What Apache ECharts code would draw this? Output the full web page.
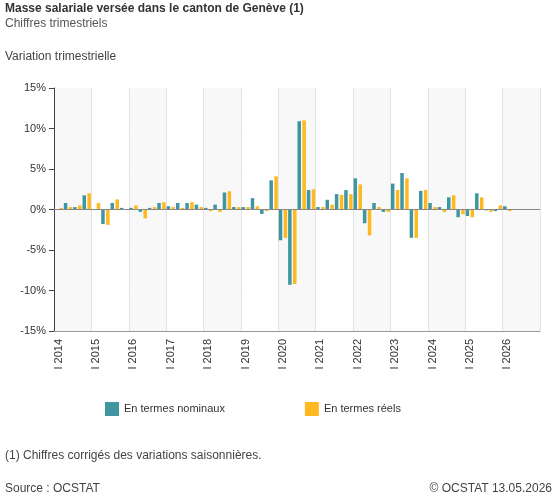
<!DOCTYPE html>
<html><head><meta charset="utf-8">
<script src="https://cdn.jsdelivr.net/npm/echarts@6/dist/echarts.min.js"></script>
<style>html,body{margin:0;padding:0;background:#fff}#c{width:557px;height:500px}</style>
</head><body><div id="c"></div>
<script>
const years = [2014,2015,2016,2017,2018,2019,2020,2021,2022,2023,2024,2025,2026];
const quarters = ['I','II','III','IV'];
const categories = [];
years.forEach(y => quarters.forEach(q => categories.push(q + ' ' + y)));
const nominal = [0,0.8,0.3,1.75,0,-1.8,0.8,0.2,0.2,-0.3,0.2,0.8,0.4,0.8,0.8,0.6,0.2,0.6,2.1,0.3,0.3,1.4,-0.55,3.6,
  -3.8,-9.3,10.9,2.4,0.3,1.2,1.9,2.4,3.85,-1.7,0.8,-0.3,3.2,4.5,-3.5,2.3,0.8,0.3,1.5,-0.95,-0.8,2.0,-0.1,-0.2,0.4];
const real = [0.2,0.3,0.5,2.0,0.8,-1.9,1.25,0,0.5,-1.1,0.3,0.9,0.3,0.2,0.9,0.3,-0.2,-0.3,2.25,0.3,0.3,0.4,-0.2,4.1,
  -3.5,-9.2,11.0,2.5,0.3,0.6,1.8,1.9,3.1,-3.2,0.3,-0.3,2.4,3.85,-3.5,2.4,0.3,-0.3,1.75,-0.6,-0.95,1.5,-0.3,0.5,-0.2];
const yTicks = [-15,-10,-5,0,5,10,15];
const chart = echarts.init(document.getElementById('c'));
const ff = 'Arial, "Liberation Sans", sans-serif';
chart.setOption({
  animation:false,
  textStyle:{fontFamily:ff},
  graphic:[
    {type:'text',left:5,top:3,style:{text:'Masse salariale versée dans le canton de Genève (1)',font:'bold 12px '+ff,fill:'#333'}},
    {type:'text',left:5,top:18,style:{text:'Chiffres trimestriels',font:'12px '+ff,fill:'#555'}},
    {type:'text',left:5,top:51,style:{text:'Variation trimestrielle',font:'12px '+ff,fill:'#444'}},
    {type:'text',left:5,top:450,style:{text:'(1) Chiffres corrigés des variations saisonnières.',font:'12px '+ff,fill:'#444'}},
    {type:'text',left:5,top:483,style:{text:'Source : OCSTAT',font:'12px '+ff,fill:'#444'}},
    {type:'text',right:5,top:483,style:{text:'© OCSTAT 13.05.2026',font:'12px '+ff,fill:'#444'}}
  ],
  legend:{top:397,left:100,itemGap:80,itemWidth:14,itemHeight:14,icon:'rect',
    textStyle:{fontSize:11,color:'#333'},data:['En termes nominaux','En termes réels']},
  grid:{left:54,right:17,top:88,bottom:169},
  xAxis:{type:'category',data:categories,boundaryGap:true,
    axisLine:{onZero:false,lineStyle:{color:'#999'}},
    axisTick:{interval:3,alignWithLabel:true,length:5,lineStyle:{color:'#555'}},
    axisLabel:{interval:3,rotate:90,color:'#333',fontSize:11},
    splitLine:{show:true,interval:3,lineStyle:{color:'#e3e3e3'}},
    splitArea:{show:true,interval:3,areaStyle:{color:['#f8f8f8','#ffffff']}}},
  yAxis:{type:'value',min:-15,max:15,interval:5,
    axisLine:{show:true,lineStyle:{color:'#444'}},
    axisTick:{show:true,length:5,lineStyle:{color:'#444'}},
    axisLabel:{color:'#333',fontSize:11,formatter:v=>yTicks.includes(v)?v+'%':''},
    splitLine:{lineStyle:{color:'#d8d8d8'}}},
  series:[
    {name:'En termes nominaux',type:'bar',data:nominal,itemStyle:{color:'#3f96a0'},barWidth:3.5,barGap:'40%',
     markLine:{silent:true,symbol:'none',label:{show:false},lineStyle:{color:'#888',type:'solid',width:1},data:[{yAxis:0}]}},
    {name:'En termes réels',type:'bar',data:real,itemStyle:{color:'#fdb91f'},barWidth:3.5}
  ]
});
</script></body></html>
